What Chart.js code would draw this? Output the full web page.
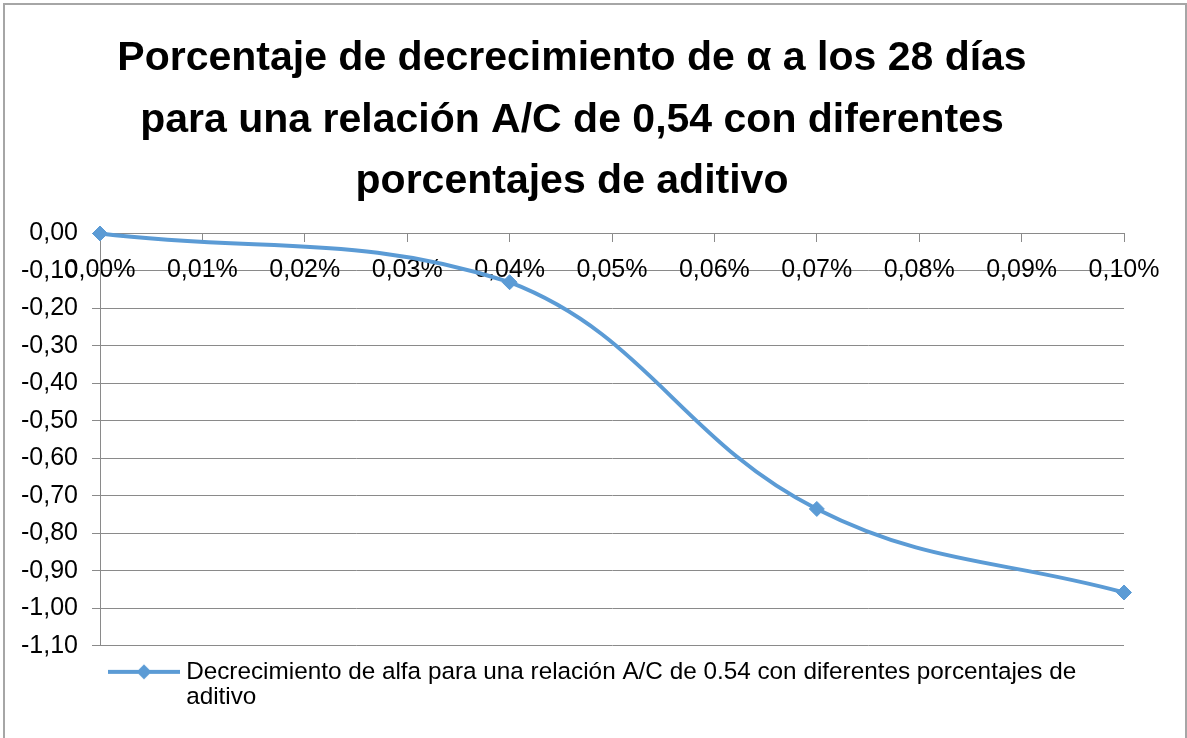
<!DOCTYPE html>
<html lang="es">
<head>
<meta charset="utf-8">
<title>Decrecimiento de alfa - A/C 0,54</title>
<script src="https://cdn.jsdelivr.net/npm/chart.js@4/dist/chart.umd.min.js"></script>
<style>
    body { margin: 0; background: #ffffff; overflow: hidden; }
    #marco {
        position: absolute;
        left: 3px;
        top: 3px;
        width: 1180px;
        height: 760px;
        border: 2px solid #a6a6a6;
        border-bottom: none;
        background: #ffffff;
    }
    #grafico { display: block; }
</style>
</head>
<body>
<div id="marco">
    <canvas id="grafico" width="1180" height="733"></canvas>
</div>
<script>
// Porcentaje de aditivo (%) y decrecimiento de alfa
const porcentajesAditivo = [0.00, 0.04, 0.07, 0.10];
const decrecimientoAlfa = [0.00, -0.13, -0.735, -0.958];

const tituloLineas = [
    'Porcentaje de decrecimiento de α a los 28 días',
    'para una relación A/C de 0,54 con diferentes',
    'porcentajes de aditivo'
];
const nombreSerie = 'Decrecimiento de alfa para una relación A/C de 0.54 con diferentes porcentajes de aditivo';
const leyendaLineas = [
    'Decrecimiento de alfa para una relación A/C de 0.54 con diferentes porcentajes de',
    'aditivo'
];

const azul = '#5b9bd5';
const gris = '#8a8a8a';
const fuente = 'Liberation Sans';

// Formato con coma decimal
function conComa(valor, decimales) {
    return Number(valor).toFixed(decimales).replace('.', ',');
}

// Icono de leyenda: línea con rombo al centro
function iconoLeyenda() {
    const c = document.createElement('canvas');
    c.width = 72;
    c.height = 18;
    const g = c.getContext('2d');
    g.strokeStyle = azul;
    g.lineWidth = 4;
    g.beginPath();
    g.moveTo(0, 9);
    g.lineTo(72, 9);
    g.stroke();
    g.fillStyle = azul;
    g.beginPath();
    g.moveTo(36, 1.5);
    g.lineTo(43.5, 9);
    g.lineTo(36, 16.5);
    g.lineTo(28.5, 9);
    g.closePath();
    g.fill();
    return c;
}

// La leyenda tiene dos renglones: se agranda su caja para que no se recorte
const altoLeyenda = {
    id: 'altoLeyenda',
    beforeLayout(chart) {
        const leyenda = chart.legend;
        if (!leyenda || leyenda._altoExtra) return;
        const fitOriginal = leyenda.fit;
        leyenda.fit = function() {
            fitOriginal.call(this);
            this.height += 30;
        };
        leyenda._altoExtra = true;
    }
};

const puntos = porcentajesAditivo.map((x, i) => ({ x: x, y: decrecimientoAlfa[i] }));

new Chart(document.getElementById('grafico').getContext('2d'), {
    type: 'line',
    data: {
        datasets: [{
            label: nombreSerie,
            data: puntos,
            borderColor: azul,
            backgroundColor: azul,
            borderWidth: 4,
            tension: 0.4,
            fill: false,
            clip: false,
            pointStyle: 'rectRot',
            pointRadius: 7.5,
            pointBackgroundColor: azul,
            pointBorderColor: azul,
            pointBorderWidth: 1
        }]
    },
    plugins: [altoLeyenda],
    options: {
        responsive: false,
        animation: false,
        layout: {
            padding: { left: 15, right: 61, top: 0, bottom: 14 }
        },
        scales: {
            x: {
                type: 'linear',
                position: { y: 0 },
                min: 0,
                max: 0.1,
                grid: {
                    drawOnChartArea: false,
                    drawTicks: true,
                    tickLength: 8,
                    color: gris
                },
                border: { display: true, color: gris, width: 1 },
                ticks: {
                    stepSize: 0.01,
                    padding: 14,
                    color: '#000000',
                    font: { family: fuente, size: 25 },
                    maxRotation: 0,
                    autoSkip: false,
                    callback: function(v) { return conComa(v, 2) + '%'; }
                }
            },
            y: {
                type: 'linear',
                min: -1.1,
                max: 0,
                afterFit: function(scale) { scale.width = 80; },
                grid: {
                    color: gris,
                    tickLength: 8
                },
                border: { display: true, color: gris, width: 1 },
                ticks: {
                    stepSize: 0.1,
                    padding: 14,
                    color: '#000000',
                    font: { family: fuente, size: 25 },
                    callback: function(v) { return conComa(v, 2); }
                }
            }
        },
        plugins: {
            title: {
                display: true,
                text: tituloLineas,
                color: '#000000',
                font: { family: fuente, size: 41, weight: 'bold', lineHeight: 1.5 },
                padding: { top: 23, bottom: 21 }
            },
            legend: {
                display: true,
                position: 'bottom',
                align: 'start',
                fullSize: false,
                labels: {
                    usePointStyle: true,
                    pointStyleWidth: 60,
                    padding: 14,
                    color: '#000000',
                    font: { family: fuente, size: 24.3, lineHeight: 1.05 },
                    generateLabels: function(chart) {
                        return [{
                            text: leyendaLineas,
                            pointStyle: iconoLeyenda(),
                            fillStyle: azul,
                            strokeStyle: azul,
                            lineWidth: 0,
                            hidden: false,
                            datasetIndex: 0
                        }];
                    }
                }
            },
            tooltip: { enabled: false }
        }
    }
});
</script>
</body>
</html>
